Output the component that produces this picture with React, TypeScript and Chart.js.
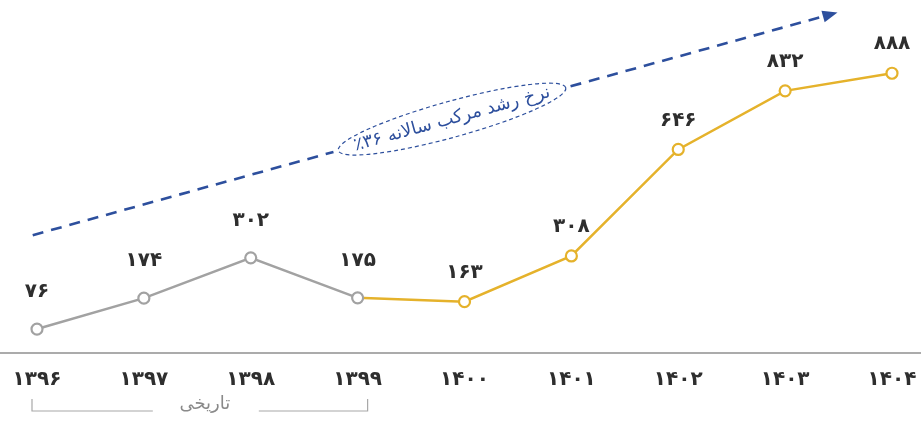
import { useEffect, useRef } from 'react';
import { Chart, registerables } from 'chart.js';

Chart.register(...registerables);

// ---- data ----
const years = [1396, 1397, 1398, 1399, 1400, 1401, 1402, 1403, 1404];
const historicalValues = [76, 174, 302, 175, null, null, null, null, null];
const forecastValues = [null, null, null, 175, 163, 308, 646, 832, 888];
const historicalLabel = 'تاریخی';
const trendLabel = 'نرخ رشد مرکب سالانه ۳۶٪';
// trend arrow anchors in data coordinates (category index, value)
const trendStart = { index: -0.04, value: 374 };
const trendEnd = { index: 7.49, value: 1081 };

const toFa = (v: number | string) =>
  String(v).replace(/\d/g, (d) => '۰۱۲۳۴۵۶۷۸۹'[Number(d)]);

const categoryLabels = years.map(toFa);

const GRAY = '#a2a2a2';
const GOLD = '#e5b22b';
const BLUE = '#2d4f9d';
const TEXT = '#2e2e2e';
const FA_FONT = '"DejaVu Sans", sans-serif';

const overlayPlugin = {
  id: 'overlay',
  beforeDatasetsDraw(chart: any) {
    const { ctx, width } = chart;
    const x = chart.scales.x;
    const y = chart.scales.y;
    const y0 = y.getPixelForValue(0);
    ctx.save();

    // baseline across full width
    ctx.strokeStyle = '#8f8f8f';
    ctx.lineWidth = 1.5;
    ctx.beginPath();
    ctx.moveTo(0, y0);
    ctx.lineTo(width, y0);
    ctx.stroke();

    // bracket under historical years
    const bx0 = x.getPixelForValue(0) - 5;
    const bx1 = x.getPixelForValue(3) + 10;
    const bTop = y0 + 46;
    const bBot = y0 + 58;
    const mid = (bx0 + bx1) / 2 + 5;
    ctx.strokeStyle = '#a8a8a8';
    ctx.lineWidth = 1.2;
    ctx.beginPath();
    ctx.moveTo(bx0, bTop);
    ctx.lineTo(bx0, bBot);
    ctx.lineTo(mid - 52, bBot);
    ctx.moveTo(mid + 54, bBot);
    ctx.lineTo(bx1, bBot);
    ctx.lineTo(bx1, bTop);
    ctx.stroke();
    ctx.fillStyle = '#8a8a8a';
    ctx.font = `18px ${FA_FONT}`;
    ctx.textAlign = 'center';
    ctx.textBaseline = 'middle';
    ctx.direction = 'rtl';
    ctx.fillText(historicalLabel, mid, y0 + 51);

    // trend arrow
    const p0x = x.getPixelForValue(trendStart.index);
    const p0y = y.getPixelForValue(trendStart.value);
    const p1x = x.getPixelForValue(trendEnd.index);
    const p1y = y.getPixelForValue(trendEnd.value);
    const dx = p1x - p0x;
    const dy = p1y - p0y;
    const len = Math.hypot(dx, dy);
    const ux = dx / len;
    const uy = dy / len;
    const ang = Math.atan2(dy, dx);
    const t = 0.521;
    const cx = p0x + dx * t;
    const cy = p0y + dy * t;
    const a = 118;
    const b = 18;
    const head = 15;

    ctx.strokeStyle = BLUE;
    ctx.lineWidth = 2.6;
    ctx.setLineDash([11, 8]);
    ctx.beginPath();
    ctx.moveTo(p0x, p0y);
    ctx.lineTo(cx - (a + 5) * ux, cy - (a + 5) * uy);
    ctx.stroke();
    ctx.beginPath();
    ctx.moveTo(cx + (a + 5) * ux, cy + (a + 5) * uy);
    ctx.lineTo(p1x - head * ux, p1y - head * uy);
    ctx.stroke();
    ctx.setLineDash([]);

    // arrow head
    ctx.fillStyle = BLUE;
    ctx.beginPath();
    ctx.moveTo(p1x, p1y);
    ctx.lineTo(p1x - head * ux - 6 * uy, p1y - head * uy + 6 * ux);
    ctx.lineTo(p1x - head * ux + 6 * uy, p1y - head * uy - 6 * ux);
    ctx.closePath();
    ctx.fill();

    // ellipse + label
    ctx.translate(cx, cy);
    ctx.rotate(ang);
    ctx.lineWidth = 1.2;
    ctx.setLineDash([4, 3]);
    ctx.beginPath();
    ctx.ellipse(0, 0, a, b, 0, 0, Math.PI * 2);
    ctx.stroke();
    ctx.setLineDash([]);
    ctx.fillStyle = BLUE;
    ctx.font = `18px ${FA_FONT}`;
    ctx.textAlign = 'center';
    ctx.textBaseline = 'middle';
    ctx.direction = 'rtl';
    ctx.fillText(trendLabel, 0, 0);
    ctx.restore();
  },
  afterDatasetsDraw(chart: any) {
    const { ctx } = chart;
    ctx.save();
    ctx.fillStyle = TEXT;
    ctx.font = `bold 20px ${FA_FONT}`;
    ctx.textAlign = 'center';
    ctx.textBaseline = 'middle';
    chart.data.datasets.forEach((ds: any, di: number) => {
      const meta = chart.getDatasetMeta(di);
      const lift = di === 0 ? 37 : 29;
      meta.data.forEach((pt: any, i: number) => {
        const v = ds.data[i];
        if (v == null) return;
        if (di === 1 && i === 3) return;
        ctx.fillText(toFa(v), pt.x, pt.y - lift);
      });
    });
    ctx.restore();
  },
};

export default function App() {
  const ref = useRef<HTMLCanvasElement | null>(null);
  useEffect(() => {
    if (!ref.current) return;
    const chart = new Chart(ref.current, {
      type: 'line',
      data: {
        labels: categoryLabels,
        datasets: [
          {
            label: 'historical',
            data: historicalValues,
            borderColor: GRAY,
            backgroundColor: '#ffffff',
            pointBackgroundColor: '#ffffff',
            pointBorderColor: GRAY,
            borderWidth: 2.5,
            pointRadius: 5.5,
            pointBorderWidth: 2.2,
            spanGaps: false,
          },
          {
            label: 'forecast',
            data: forecastValues,
            borderColor: GOLD,
            backgroundColor: '#ffffff',
            pointBackgroundColor: '#ffffff',
            pointBorderColor: GOLD,
            borderWidth: 2.5,
            pointRadius: (c: any) => (c.dataIndex === 3 ? 0 : 5.5),
            pointBorderWidth: 2.2,
            spanGaps: false,
          },
        ],
      },
      options: {
        animation: false,
        responsive: true,
        maintainAspectRatio: false,
        layout: { padding: { left: 37, right: 29, top: 0, bottom: 0 } },
        plugins: {
          legend: { display: false },
          tooltip: { enabled: false },
        },
        scales: {
          x: {
            type: 'category',
            offset: false,
            grid: { display: false, drawTicks: false },
            border: { display: false },
            afterFit: (s: any) => {
              s.height = 83;
              s.paddingLeft = 0;
              s.paddingRight = 0;
            },
            ticks: {
              padding: 15,
              color: TEXT,
              font: { family: FA_FONT, size: 20, weight: 'bold' },
              maxRotation: 0,
              autoSkip: false,
            },
          },
          y: {
            display: false,
            min: 0,
            max: 1096,
          },
        },
      },
      plugins: [overlayPlugin],
    });
    return () => chart.destroy();
  }, []);

  return (
    <div style={{ position: 'fixed', left: 0, top: 0, width: 921, height: 436, background: '#ffffff' }}>
      <canvas ref={ref} />
    </div>
  );
}
